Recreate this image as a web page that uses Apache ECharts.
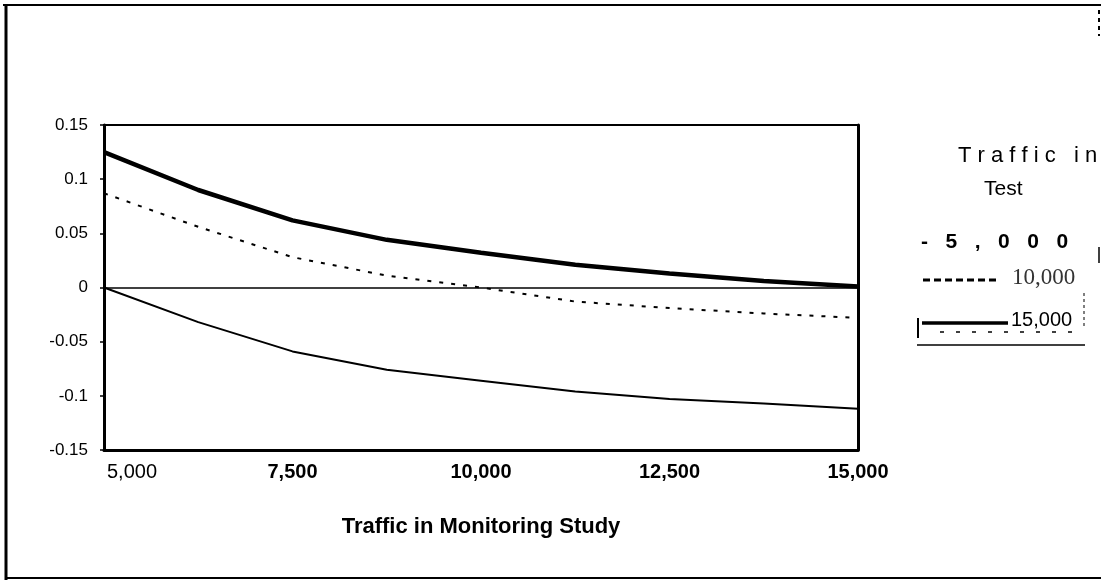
<!DOCTYPE html>
<html>
<head>
<meta charset="utf-8">
<script src="https://cdn.jsdelivr.net/npm/echarts@6/dist/echarts.min.js"></script>
<style>
html,body{margin:0;padding:0;background:#fff;}
#chart{width:1101px;height:580px;}
</style>
</head>
<body>
<div id="chart"></div>
<script>
// Traffic in Monitoring Study (x values)
const monitoringTraffic = [5000, 6250, 7500, 8750, 10000, 11250, 12500, 13750, 15000];
// Series: Traffic in Test
const test5000  = [0, -0.032, -0.059, -0.076, -0.086, -0.096, -0.103, -0.107, -0.112];
const test10000 = [0.087, 0.056, 0.028, 0.011, 0.0, -0.013, -0.019, -0.024, -0.028];
const test15000 = [0.125, 0.090, 0.062, 0.044, 0.032, 0.021, 0.013, 0.006, 0.001];
const xTickLabels = ['5,000', '7,500', '10,000', '12,500', '15,000'];
const yTickLabels = ['-0.15', '-0.1', '-0.05', '0', '0.05', '0.1', '0.15'];
const xAxisTitle = 'Traffic in Monitoring Study';
const legendTitle1 = 'T r a f f i c   i n';
const legendTitle2 = 'Test';
const legendNames = ['-   5   ,   0   0   0', '10,000', '15,000'];

function pairs(ys) { return monitoringTraffic.map((x, i) => [x, ys[i]]); }

const chart = echarts.init(document.getElementById('chart'));
const font = 'Arial, "Liberation Sans", sans-serif';

const option = {
  backgroundColor: '#fff',
  animation: false,
  grid: { left: 104, right: 243, top: 125, bottom: 130, show: true, borderColor: '#000', borderWidth: 2, backgroundColor: 'transparent' },
  xAxis: {
    type: 'value', min: 5000, max: 15000, interval: 2500,
    name: xAxisTitle, nameLocation: 'middle', nameGap: 66,
    nameTextStyle: { fontFamily: font, fontWeight: 'bold', fontSize: 22, color: '#000' },
    axisLine: { show: true, onZero: false, lineStyle: { color: '#000', width: 3 } },
    axisTick: { show: false },
    splitLine: { show: false },
    axisLabel: {
      margin: 12, color: '#000', fontFamily: font, fontSize: 20, fontWeight: 'bold',
      alignMinLabel: 'left',
      formatter: function (v) {
        const idx = Math.round((v - 5000) / 2500);
        const t = xTickLabels[idx];
        return idx === 0 ? '{n|' + t + '}' : t;
      },
      rich: { n: { fontFamily: font, fontSize: 20, fontWeight: 'normal', color: '#000', padding: [0, 0, 0, 3] } }
    }
  },
  yAxis: [{
    type: 'value', min: -0.15, max: 0.15, interval: 0.05,
    axisLine: { show: true, onZero: false, lineStyle: { color: '#000', width: 3 } },
    axisTick: { show: true, inside: false, length: 4, lineStyle: { color: '#000', width: 1.5 } },
    splitLine: { show: false },
    axisLabel: {
      margin: 16, color: '#000', fontFamily: font, fontSize: 17,
      formatter: function (v) { return yTickLabels[Math.round((v + 0.15) / 0.05)]; }
    }
  }, {
    type: 'value', min: -0.15, max: 0.15, interval: 0.05, position: 'right',
    axisLine: { show: true, lineStyle: { color: '#000', width: 3 } },
    axisTick: { show: false }, axisLabel: { show: false }, splitLine: { show: false }
  }],
  series: [
    {
      name: legendNames[0], type: 'line', data: pairs(test5000), symbol: 'none',
      lineStyle: { color: '#000', width: 2 },
      markLine: {
        silent: true, symbol: ['none', 'none'], label: { show: false },
        lineStyle: { color: '#000', width: 1.5, type: 'solid' },
        data: [{ yAxis: 0 }]
      }
    },
    {
      name: legendNames[1], type: 'line', data: pairs(test10000), symbol: 'none',
      lineStyle: { color: '#000', width: 2, type: [4, 8] }
    },
    {
      name: legendNames[2], type: 'line', data: pairs(test15000), symbol: 'none',
      lineStyle: { color: '#000', width: 4.5 }
    }
  ],
  graphic: [
    // outer frame
    { type: 'line', shape: { x1: 6, y1: 5, x2: 6, y2: 580 }, style: { stroke: '#000', lineWidth: 3 } },
    { type: 'line', shape: { x1: 3, y1: 5, x2: 1101, y2: 5 }, style: { stroke: '#000', lineWidth: 2 } },
    { type: 'line', shape: { x1: 6, y1: 578, x2: 1101, y2: 578 }, style: { stroke: '#000', lineWidth: 2 } },
    { type: 'line', shape: { x1: 1099, y1: 10, x2: 1099, y2: 36 }, style: { stroke: '#000', lineWidth: 2, lineDash: [4, 4] } },
    // legend
    { type: 'text', left: 958, top: 145, style: { text: legendTitle1, font: '22px ' + font, fill: '#000' } },
    { type: 'text', left: 984, top: 179, style: { text: legendTitle2, font: '21px ' + font, fill: '#000' } },
    { type: 'text', left: 921, top: 232, style: { text: legendNames[0], font: 'bold 21px ' + font, fill: '#000' } },
    { type: 'line', shape: { x1: 1099, y1: 247, x2: 1099, y2: 263 }, style: { stroke: '#000', lineWidth: 1.5 } },
    { type: 'line', shape: { x1: 923, y1: 280, x2: 998, y2: 280 }, style: { stroke: '#000', lineWidth: 3, lineDash: [7, 4] } },
    { type: 'text', left: 1012, top: 266, style: { text: legendNames[1], font: '23px "Liberation Serif", "Times New Roman", serif', fill: '#333' } },
    { type: 'line', shape: { x1: 1084, y1: 293, x2: 1084, y2: 328 }, style: { stroke: '#000', lineWidth: 1, lineDash: [3, 3] } },
    { type: 'line', shape: { x1: 918, y1: 318, x2: 918, y2: 338 }, style: { stroke: '#000', lineWidth: 2 } },
    { type: 'line', shape: { x1: 922, y1: 323, x2: 1008, y2: 323 }, style: { stroke: '#000', lineWidth: 3.5 } },
    { type: 'text', left: 1011, top: 310, style: { text: legendNames[2], font: '20px ' + font, fill: '#000' } },
    { type: 'line', shape: { x1: 940, y1: 332, x2: 1080, y2: 332 }, style: { stroke: '#000', lineWidth: 1.5, lineDash: [4, 12] } },
    { type: 'line', shape: { x1: 917, y1: 345, x2: 1085, y2: 345 }, style: { stroke: '#000', lineWidth: 1.5 } }
  ]
};
chart.setOption(option);
</script>
</body>
</html>
